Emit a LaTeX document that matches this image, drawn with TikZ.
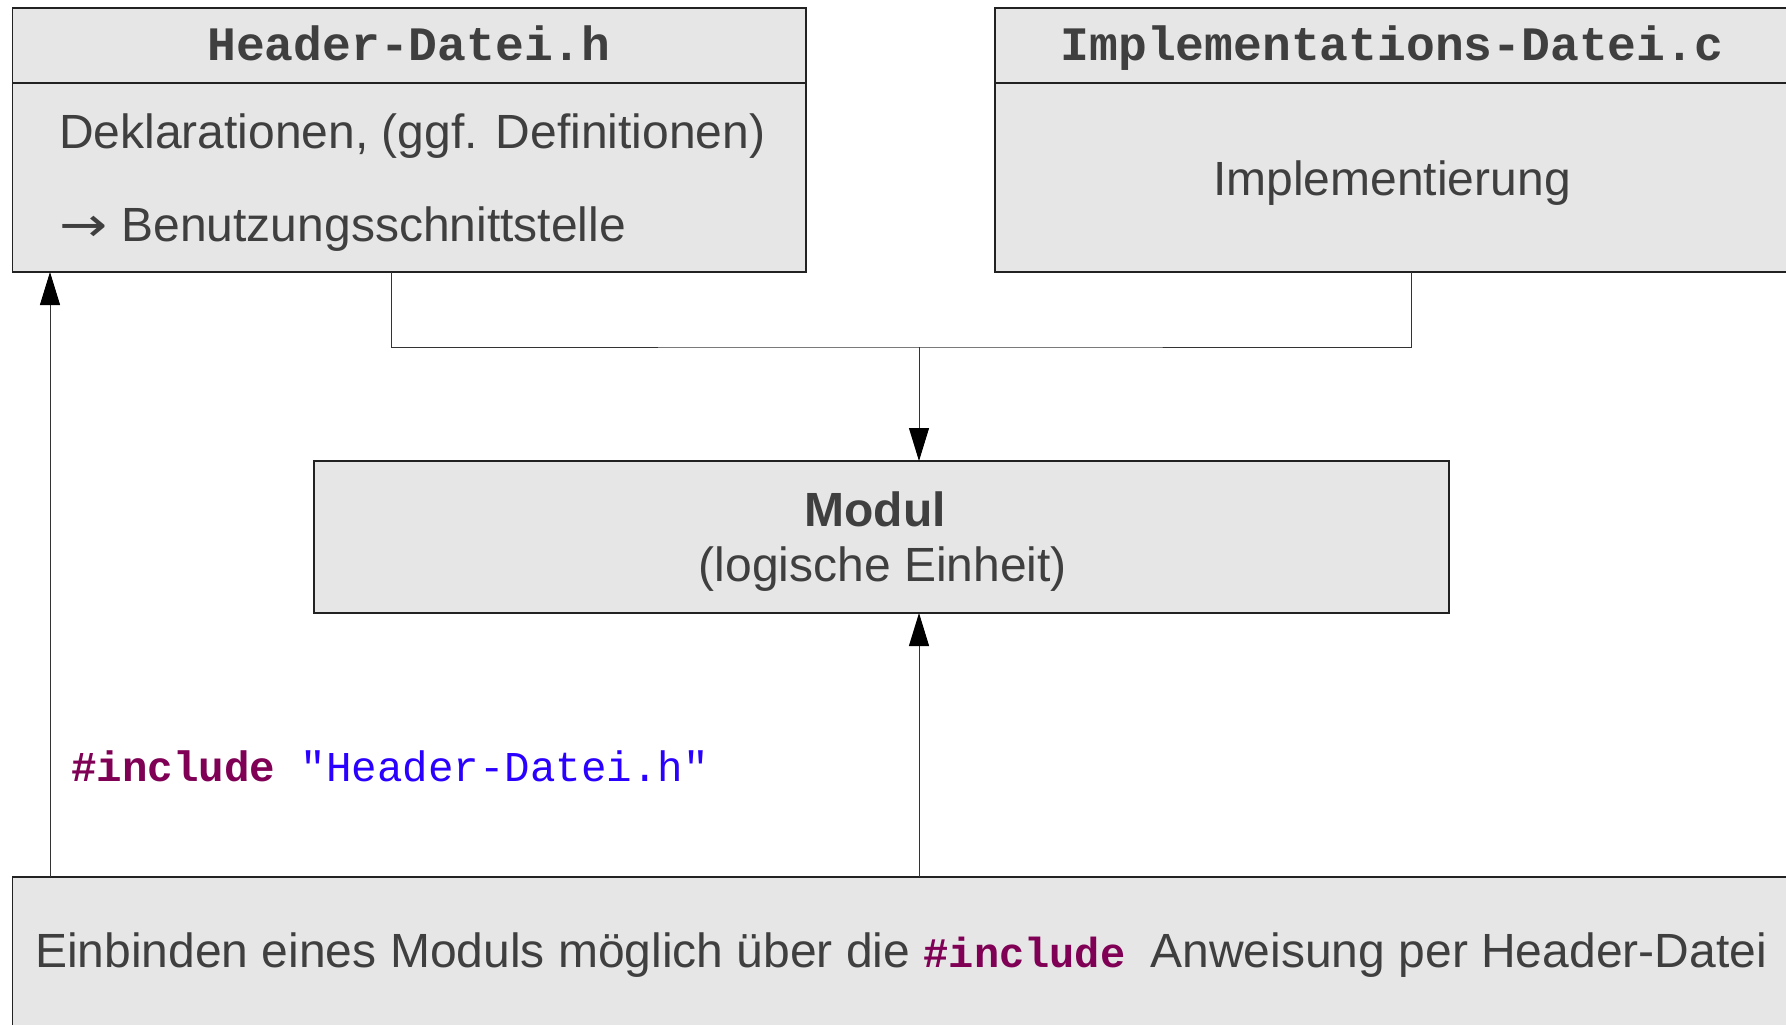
\documentclass[tikz,border=0pt]{standalone}
\usepackage{fontspec}
\setmainfont{Liberation Sans}
\setmonofont{Liberation Mono}
\newfontfamily\arrowfont{DejaVu Sans}
\usetikzlibrary{arrows.meta}
\definecolor{boxfill}{HTML}{E6E6E6}
\definecolor{txt}{HTML}{3F3F3F}
\definecolor{kw}{HTML}{7F0055}
\definecolor{strc}{HTML}{2A00FF}
\definecolor{edge}{HTML}{222222}
\definecolor{lnk}{HTML}{333333}
\begin{document}
\begin{tikzpicture}[x=1pt,y=-1pt,
  box/.style={draw=edge, fill=boxfill, line width=1.3pt, rectangle, inner sep=0pt, outer sep=0pt, anchor=north west},
  lbl/.style={text=txt, font=\fontsize{48}{55}\selectfont, inner sep=0pt},
  ttl/.style={text=txt, font=\fontsize{48}{55}\selectfont\ttfamily\bfseries, inner sep=0pt, anchor=base},
  conn/.style={draw=lnk, line width=1pt},
  arr/.style={conn, -{Triangle[length=33pt,width=20pt,color=black]}}]
\useasboundingbox[fill=white] (0,0) rectangle (1786,1025);

% Header file box
\node[box, minimum width=793.5pt, minimum height=75pt] (hdrtitle) at (12.5,8) {};
\node[box, minimum width=793.5pt, minimum height=189pt] (hdrbody) at (12.5,83) {};
\node[ttl] (hdrttl) at (409,61) {Header-Datei.h};
\node[lbl, anchor=base west] (decl) at (59,148) {Deklarationen, (ggf. Definitionen)};
\node[lbl, anchor=base west] (iface) at (59,241) {\makebox[49pt][l]{\scalebox{1.2}[1]{\arrowfont →}}\ Benutzungsschnittstelle};

% Implementation file box
\node[box, minimum width=805pt, minimum height=75pt] (impltitle) at (995,8) {};
\node[box, minimum width=805pt, minimum height=189pt] (implbody) at (995,83) {};
\node[ttl] (implttl) at (1392,61) {Implementations-Datei.c};
\node[lbl, anchor=base] (impltxt) at (1392,195) {Implementierung};

% Module box
\node[box, minimum width=1135pt, minimum height=152pt] (modul) at (314,461) {};
\node[lbl, anchor=base] (modname) at (875,526) {\bfseries Modul};
\node[lbl, anchor=base] (modsub) at (883,581) {(logische Einheit)};

% Bottom box
\node[box, minimum width=1790pt, minimum height=170pt] (bottom) at (12.5,877) {};
\node[lbl, anchor=base west] (bottomtxt) at (35,967) {Einbinden eines Moduls möglich über die {\color{kw}\ttfamily\bfseries\fontsize{42}{50}\selectfont\#include\ }Anweisung per Header-Datei};

% include label
\node[inner sep=0pt, anchor=base west, font=\fontsize{42.5}{50}\selectfont\ttfamily] (inclbl) at (71,781) {{\color{kw}\bfseries\#include} {\color{strc}"Header-Datei.h"}};

% connectors
\coordinate (hx) at (391,0);
\coordinate (ix) at (1411,0);
\coordinate (j) at (919,347);
\coordinate (lx) at (50,0);
\draw[conn] (hdrbody.south -| hx) |- (j) -| (implbody.south -| ix);
\draw[arr] (j) -- (j |- modul.north);
\draw[arr] (bottom.north -| j) -- (modul.south -| j);
\draw[arr] (bottom.north -| lx) -- (hdrbody.south -| lx);
\end{tikzpicture}
\end{document}
